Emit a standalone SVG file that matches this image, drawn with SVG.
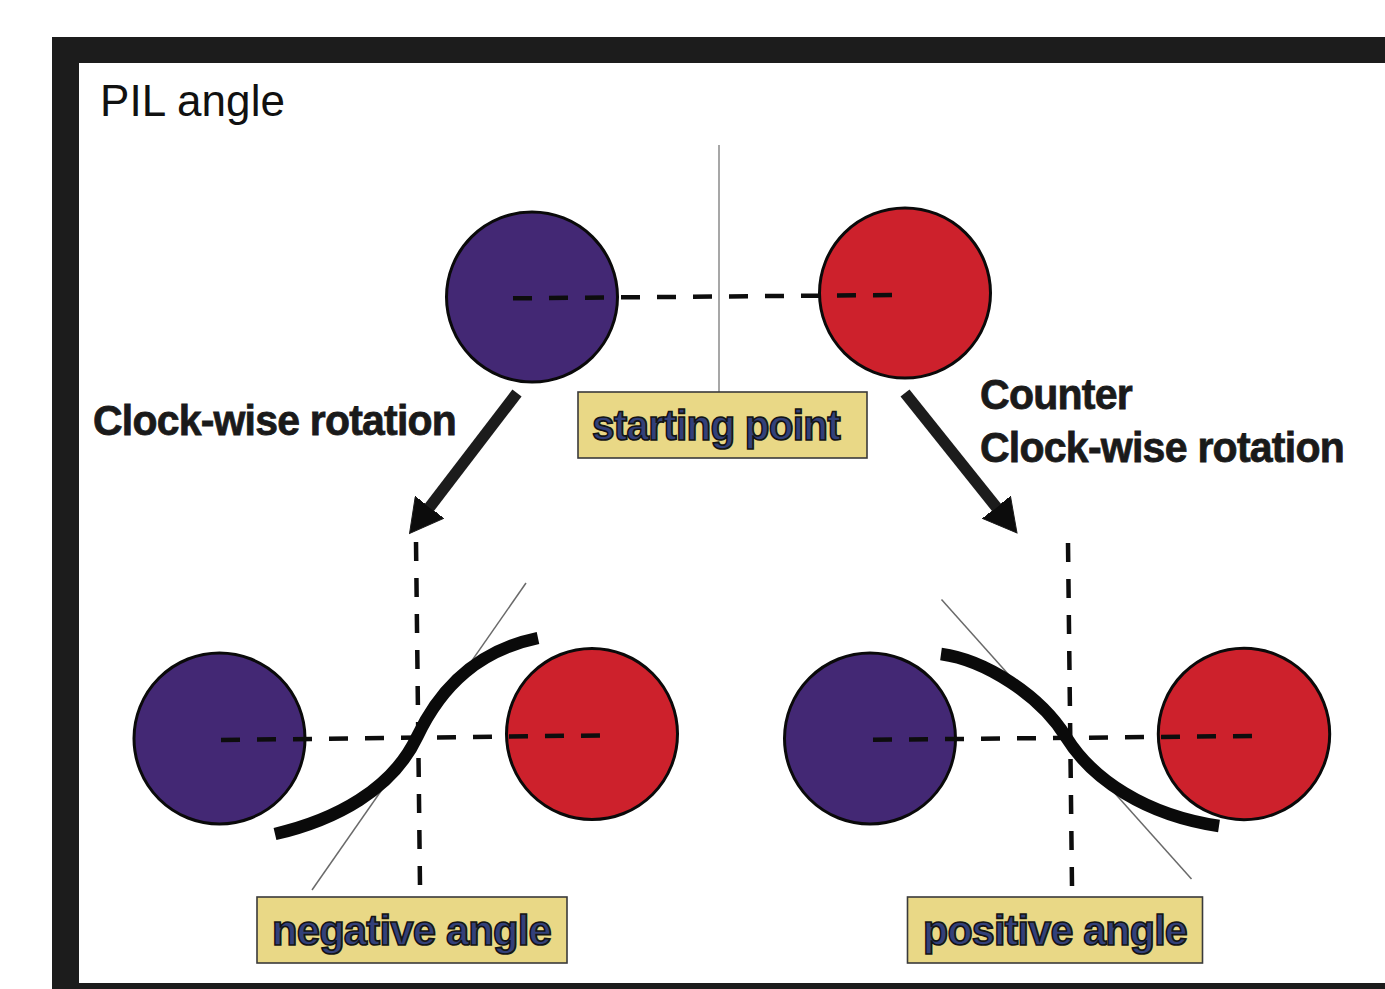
<svg xmlns="http://www.w3.org/2000/svg" width="1385" height="989" viewBox="0 0 1385 989">
  <defs>
    <style>
      .frame { fill: #1c1c1c; }
      .panel { fill: #ffffff; }
      .title { font-family: "Liberation Sans", Arial, sans-serif; font-size: 44px; fill: #111111; }
      .caption { font-family: "Liberation Sans", Arial, sans-serif; font-weight: bold; font-size: 43px; fill: #1a1a1a; stroke: #1a1a1a; stroke-width: 0.8; letter-spacing: -0.8px; }
      .tag-box { fill: #e9d886; stroke: #3a3a3a; stroke-width: 1.6; }
      .tag-text { font-family: "Liberation Sans", Arial, sans-serif; font-weight: bold; font-size: 43px; fill: #33407a; stroke: #141414; stroke-width: 1.7; letter-spacing: -0.8px; }
      .ball-blue { fill: #432874; stroke: #0a0a0a; stroke-width: 3; }
      .ball-red { fill: #cd212c; stroke: #0a0a0a; stroke-width: 3; }
      .axis { fill: none; stroke: #0d0d0d; stroke-width: 4.5; stroke-dasharray: 19 17; }
      .guide { fill: none; stroke: #8a8a8a; stroke-width: 1.5; }
      .tangent { fill: none; stroke: #6a6a6a; stroke-width: 1.5; }
      .strand { fill: none; stroke: #0a0a0a; stroke-width: 12.5; stroke-linecap: butt; }
      .shaft { fill: none; stroke: #1c1c1c; stroke-width: 11.5; marker-end: url(#head); }
    </style>
    <marker id="head" markerUnits="userSpaceOnUse" viewBox="0 0 34 36" markerWidth="34" markerHeight="36" refX="1" refY="18" orient="auto">
      <path d="M0,0 L33,18 L0,36 Z" fill="#0c0c0c" stroke="#1c1c1c" stroke-width="1"/>
    </marker>
  </defs>

  <!-- outer frame -->
  <rect class="frame" x="52" y="37" width="1400" height="1000"/>
  <rect class="panel" x="79" y="63" width="1380" height="920"/>
  <text class="title" x="100" y="116" textLength="185" lengthAdjust="spacing">PIL angle</text>

  <!-- starting pair -->
  <g id="start-pair">
    <line class="guide" x1="719" y1="145" x2="719" y2="392"/>
    <ellipse class="ball-blue" cx="532" cy="297" rx="85.5" ry="85"/>
    <ellipse class="ball-red" cx="905" cy="293" rx="85.5" ry="85"/>
    <line class="axis" x1="513" y1="298.3" x2="895" y2="295"/>
  </g>

  <g id="starting-point">
    <rect class="tag-box" x="578" y="392" width="289" height="66"/>
    <text class="tag-text" x="592" y="440" textLength="248" lengthAdjust="spacingAndGlyphs">starting point</text>
  </g>

  <g id="cw-label">
    <text class="caption" x="93" y="435" textLength="363" lengthAdjust="spacingAndGlyphs">Clock-wise rotation</text>
  </g>

  <g id="ccw-label">
    <text class="caption" x="980" y="409" textLength="152" lengthAdjust="spacingAndGlyphs">Counter</text>
    <text class="caption" x="980" y="462" textLength="364" lengthAdjust="spacingAndGlyphs">Clock-wise rotation</text>
  </g>

  <!-- rotation arrows -->
  <g id="connectors">
    <line class="shaft" x1="517" y1="393" x2="429" y2="508"/>
    <line class="shaft" x1="905" y1="393" x2="997" y2="508"/>
  </g>

  <!-- clockwise result -->
  <g id="negative-pair">
    <line class="axis" x1="416" y1="542" x2="420" y2="886"/>
    <line class="tangent" x1="312" y1="890" x2="526" y2="583"/>
    <ellipse class="ball-blue" cx="219.5" cy="738.5" rx="85.5" ry="85.5"/>
    <ellipse class="ball-red" cx="592" cy="734" rx="85.5" ry="85.5"/>
    <line class="axis" x1="221" y1="740" x2="601" y2="735.4"/>
    <path class="strand" d="M275,834 C335,820 392,790 417,737 C442,684 480,650 538,638"/>
  </g>

  <g id="negative-angle">
    <rect class="tag-box" x="257" y="897" width="310" height="66"/>
    <text class="tag-text" x="272" y="945" textLength="279" lengthAdjust="spacingAndGlyphs">negative angle</text>
  </g>

  <!-- counter-clockwise result -->
  <g id="positive-pair">
    <line class="axis" x1="1068" y1="543" x2="1072" y2="886"/>
    <line class="tangent" x1="941.5" y1="599.5" x2="1191.5" y2="879"/>
    <ellipse class="ball-blue" cx="870" cy="738.5" rx="85.5" ry="85.5"/>
    <ellipse class="ball-red" cx="1244" cy="734" rx="85.7" ry="85.7"/>
    <line class="axis" x1="873" y1="739.8" x2="1252" y2="736"/>
    <path class="strand" d="M941,654 C985,660 1040,695 1066,737 C1092,779 1145,815 1219,826"/>
  </g>

  <g id="positive-angle">
    <rect class="tag-box" x="907.5" y="897" width="295" height="66"/>
    <text class="tag-text" x="923" y="945" textLength="264" lengthAdjust="spacingAndGlyphs">positive angle</text>
  </g>
</svg>
